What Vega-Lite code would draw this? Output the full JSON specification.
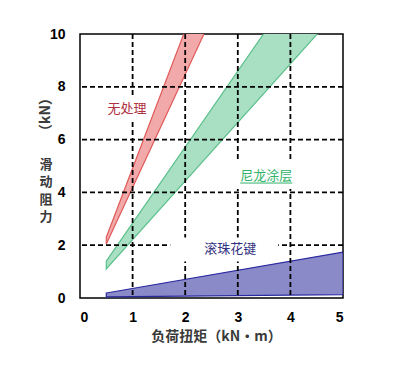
{
  "$schema": "https://vega.github.io/schema/vega-lite/v6.json",
  "width": 263,
  "height": 264,
  "autosize": "none",
  "padding": {"left": 80, "top": 34, "right": 57, "bottom": 69},
  "background": "white",
  "config": {
    "view": {"stroke": "black", "strokeWidth": 1.5},
    "axis": {
      "grid": false, "ticks": false, "domain": false,
      "labelFont": "Liberation Sans", "labelFontSize": 14, "labelFontWeight": "bold", "labelColor": "black",
      "titleFont": "Noto Sans CJK SC", "titleFontSize": 14, "titleFontWeight": "bold", "titleColor": "#3a3a3a"
    }
  },
  "datasets": {
    "bands": [
      {"type": "无处理", "x": 0.5, "upper": 2.3, "lower": 2.05},
      {"type": "无处理", "x": 2.45, "upper": 12.5, "lower": 10.4},
      {"type": "尼龙涂层", "x": 0.5, "upper": 1.4, "lower": 1.1},
      {"type": "尼龙涂层", "x": 4.6, "upper": 13.2, "lower": 10.2},
      {"type": "滚珠花键", "x": 0.5, "upper": 0.19, "lower": 0.04},
      {"type": "滚珠花键", "x": 5, "upper": 1.74, "lower": 0.13}
    ],
    "labels": [
      {"label": "无处理", "x": 0.893, "y": 7.15},
      {"label": "尼龙涂层", "x": 3.54, "y": 4.62},
      {"label": "滚珠花键", "x": 2.857, "y": 1.84}
    ]
  },
  "resolve": {"axis": {"y": "independent"}},
  "layer": [
    {
      "data": {"name": "bands"},
      "mark": {"type": "area", "clip": true, "strokeWidth": 1.2},
      "encoding": {
        "x": {"field": "x", "type": "quantitative", "scale": {"domain": [0, 5], "nice": false},
          "axis": {"values": [0, 1, 2, 3, 4, 5], "labelPadding": 12, "title": "负荷扭矩（kN•m）",
            "titleX": 136, "titleY": 38, "titleAlign": "center", "titleBaseline": "middle"}},
        "y": {"field": "upper", "type": "quantitative", "stack": null, "scale": {"domain": [0, 10], "nice": false},
          "axis": {"orient": "left", "values": [0, 2, 4, 6, 8, 10], "labelPadding": 15, "title": "（kN）",
            "titleAngle": 270, "titleX": -35, "titleY": 80, "titleAlign": "center", "titleBaseline": "middle"}},
        "y2": {"field": "lower"},
        "fill": {"field": "type", "type": "nominal", "legend": null,
          "scale": {"domain": ["无处理", "尼龙涂层", "滚珠花键"], "range": ["#f2a9a9", "#a9e0c3", "#8a8ac8"]}},
        "stroke": {"field": "type", "type": "nominal", "legend": null,
          "scale": {"domain": ["无处理", "尼龙涂层", "滚珠花键"], "range": ["#e05a5a", "#5cc08c", "#2a2aa0"]}}
      }
    },
    {
      "data": {"values": [{"v": 1}, {"v": 2}, {"v": 3}, {"v": 4}]},
      "mark": {"type": "rule", "color": "black", "strokeWidth": 1.8, "strokeDash": [5, 3]},
      "encoding": {"x": {"field": "v", "type": "quantitative"}}
    },
    {
      "data": {"values": [{"v": 2}, {"v": 4}, {"v": 6}, {"v": 8}]},
      "mark": {"type": "rule", "color": "black", "strokeWidth": 1.8, "strokeDash": [5, 3]},
      "encoding": {"y": {"field": "v", "type": "quantitative",
        "axis": {"orient": "left", "labels": false, "title": ["滑", "动", "阻", "力"], "titleAngle": 0, "titleFontSize": 13,
          "titleX": -34.5, "titleY": 130, "titleAlign": "center", "titleBaseline": "middle", "titleLineHeight": 17.5}}}
    },
    {
      "data": {"name": "labels"},
      "transform": [{"filter": "datum.label === '无处理'"}],
      "mark": {"type": "rect", "color": "white", "xOffset": -22, "x2Offset": 18, "yOffset": -13, "y2Offset": 12},
      "encoding": {"x": {"field": "x", "type": "quantitative"}, "x2": {"field": "x"},
        "y": {"field": "y", "type": "quantitative", "axis": null}, "y2": {"field": "y"}}
    },
    {
      "data": {"name": "labels"},
      "transform": [{"filter": "datum.label === '尼龙涂层'"}],
      "mark": {"type": "rect", "color": "white", "xOffset": -34, "x2Offset": 30, "yOffset": -15, "y2Offset": 13},
      "encoding": {"x": {"field": "x", "type": "quantitative"}, "x2": {"field": "x"},
        "y": {"field": "y", "type": "quantitative", "axis": null}, "y2": {"field": "y"}}
    },
    {
      "data": {"name": "labels"},
      "transform": [{"filter": "datum.label === '滚珠花键'"}],
      "mark": {"type": "rect", "color": "white", "xOffset": -60, "x2Offset": 48, "yOffset": -12, "y2Offset": 12},
      "encoding": {"x": {"field": "x", "type": "quantitative"}, "x2": {"field": "x"},
        "y": {"field": "y", "type": "quantitative", "axis": null}, "y2": {"field": "y"}}
    },
    {
      "data": {"name": "labels"},
      "mark": {"type": "text", "font": "Noto Sans CJK SC", "fontSize": 13, "align": "center", "baseline": "middle"},
      "encoding": {
        "x": {"field": "x", "type": "quantitative"},
        "y": {"field": "y", "type": "quantitative", "axis": null},
        "text": {"field": "label"},
        "color": {"field": "label", "type": "nominal", "legend": null,
          "scale": {"domain": ["无处理", "尼龙涂层", "滚珠花键"], "range": ["#b0303f", "#33b36b", "#33337f"]}}
      }
    },
    {
      "data": {"name": "labels"},
      "transform": [{"filter": "datum.label === '尼龙涂层'"}],
      "mark": {"type": "rule", "color": "#33b36b", "strokeWidth": 1, "xOffset": -26, "x2Offset": 26, "yOffset": 7},
      "encoding": {"x": {"field": "x", "type": "quantitative"}, "x2": {"field": "x"},
        "y": {"field": "y", "type": "quantitative", "axis": null}}
    }
  ]
}
